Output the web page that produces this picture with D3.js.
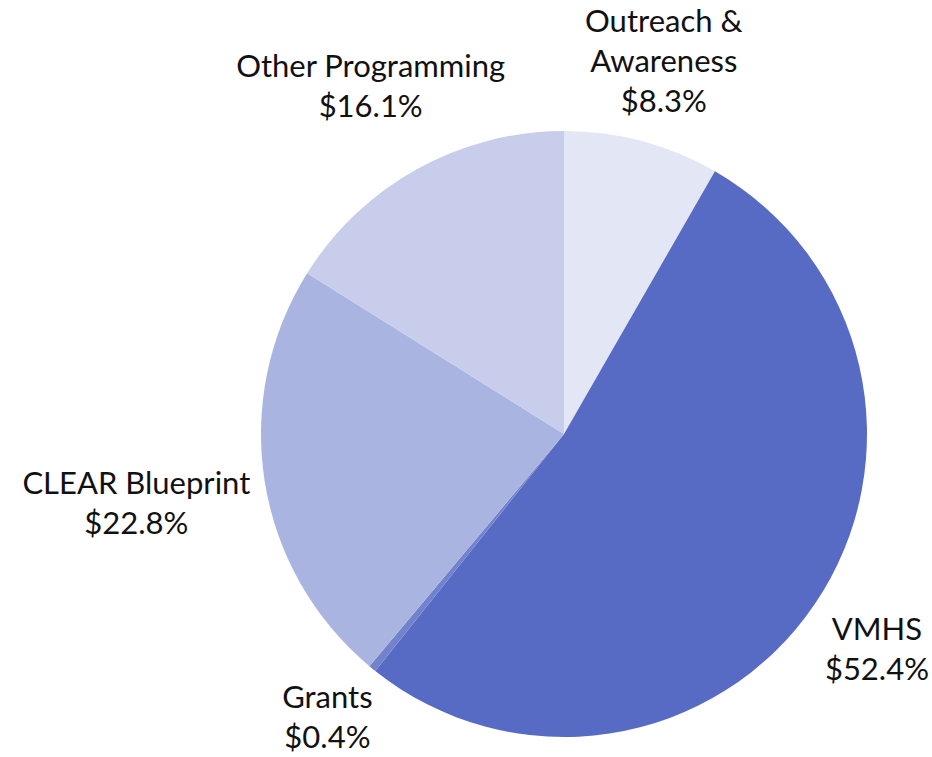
<!DOCTYPE html>
<html>
<head>
<meta charset="utf-8">
<script src="https://cdn.jsdelivr.net/npm/d3@7"></script>
<style>
  body { margin: 0; background: #fff; }
  text { font-family: Lato, "Open Sans", sans-serif; }
</style>
</head>
<body>
<div id="container"></div>
<script>
let w = 932;
let h = 757;

let categories = ["Outreach & Awareness", "VMHS", "Grants", "CLEAR Blueprint", "Other Programming"];
let labelLines = [["Outreach &", "Awareness"], ["VMHS"], ["Grants"], ["CLEAR Blueprint"], ["Other Programming"]];
let shares = [8.3, 52.4, 0.4, 22.8, 16.1];
let colors = ["#e3e6f5", "#586bc4", "#7282cd", "#aab4e1", "#c7cdeb"];

let cx = 564;
let cy = 434;
let radius = 303;
let fontSize = 31;
let lineHeight = 40;

let viz = d3.select("#container")
  .append("svg")
  .attr("width", w)
  .attr("height", h)
  .style("background-color", "white");

let data = categories.map((c, i) => ({ name: c, lines: labelLines[i], value: shares[i], color: colors[i] }));

let pie = d3.pie().sort(null).value(d => d.value);
let arcs = pie(data);
let arc = d3.arc().innerRadius(0).outerRadius(radius);

let g = viz.append("g").attr("transform", `translate(${cx}, ${cy})`);

g.selectAll(".slice")
  .data(arcs)
  .enter()
  .append("path")
  .attr("class", "slice")
  .attr("d", arc)
  .attr("fill", d => d.data.color);

// labels outside the pie, pushed out until the text box clears the circle
let labels = g.selectAll(".label")
  .data(arcs)
  .enter()
  .append("text")
  .attr("class", "label")
  .attr("text-anchor", "middle")
  .attr("font-size", fontSize + "px")
  .attr("fill", "#111");

labels.each(function(d) {
  let t = d3.select(this);
  let lines = d.data.lines.concat(["$" + d.data.value.toFixed(1) + "%"]);
  lines.forEach((l, i) => {
    t.append("tspan").attr("x", 0).attr("y", i * lineHeight).text(l);
  });
  let box = this.getBBox();
  let mid = (d.startAngle + d.endAngle) / 2;
  let r = radius + 69;
  let pos = () => {
    let x = r * Math.sin(mid);
    let y = -r * Math.cos(mid) - (box.y + box.height / 2);
    return [x, y];
  };
  let gap = () => {
    let [x, y] = pos();
    let bx0 = x + box.x, bx1 = bx0 + box.width;
    let by0 = y + box.y, by1 = by0 + box.height;
    let nx = Math.max(bx0, Math.min(0, bx1));
    let ny = Math.max(by0, Math.min(0, by1));
    return Math.sqrt(nx * nx + ny * ny);
  };
  while (gap() < radius + 12) r += 1;
  let [x, y] = pos();
  // keep the label inside the picture
  x = Math.min(x, w - cx - 3 - (box.x + box.width));
  y = Math.min(y, h - cy - 2 - (box.y + box.height));
  t.attr("transform", `translate(${x}, ${y})`);
});
</script>
</body>
</html>
